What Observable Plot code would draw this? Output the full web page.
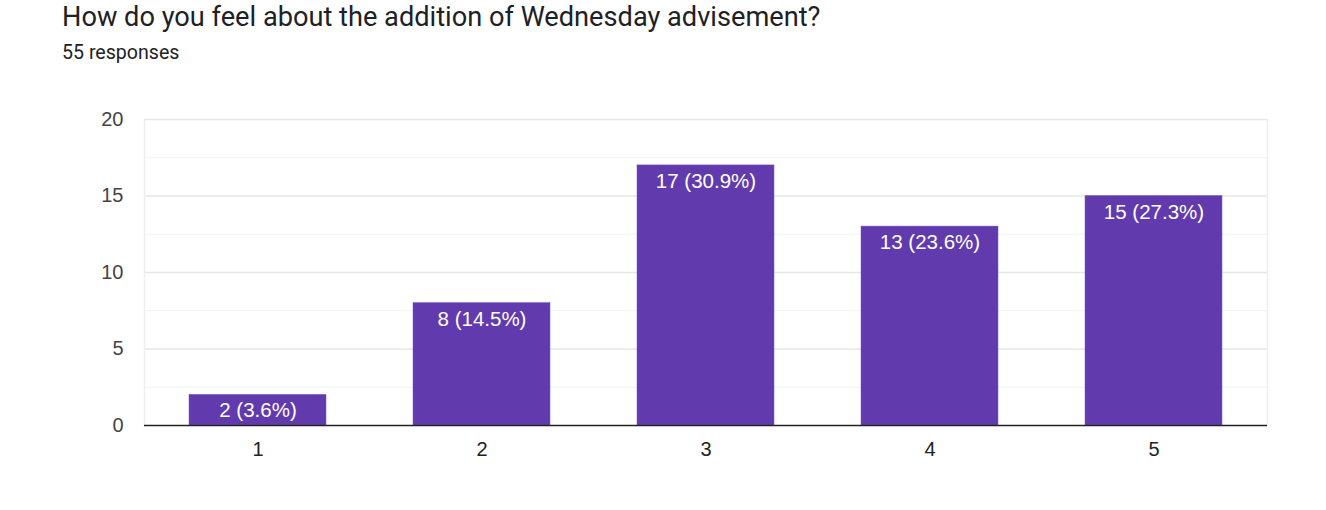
<!DOCTYPE html>
<html><head><meta charset="utf-8">
<script src="https://cdn.jsdelivr.net/npm/d3@7"></script>
<script src="https://cdn.jsdelivr.net/npm/@observablehq/plot@0.6"></script>
<style>
body{margin:0;background:#fff;width:1326px;height:510px;overflow:hidden;position:relative}
#title{position:absolute;left:62px;top:1px;font:27.2px Roboto,sans-serif;color:#202124;white-space:nowrap}
#sub{position:absolute;left:62px;top:41px;font:19.6px Roboto,sans-serif;color:#202124}
#chart{position:absolute;left:0;top:90px}
</style></head><body>
<div id="title">How do you feel about the addition of Wednesday advisement?</div>
<div id="sub">55 responses</div>
<div id="chart"></div>
<script>
const categories = ["1","2","3","4","5"];
const counts = [2, 8, 17, 13, 15];
const labels = ["2 (3.6%)","8 (14.5%)","17 (30.9%)","13 (23.6%)","15 (27.3%)"];
const yTicks = [0,5,10,15,20];
const yMinor = [2.5,7.5,12.5,17.5];

const data = categories.map((c,i)=>({cat:c, n:counts[i], label:labels[i]}));

const chart = Plot.plot({
  width:1326, height:400,
  marginLeft:144, marginRight:59, marginTop:29, marginBottom:65,
  style:{fontFamily:"'Liberation Sans', Arial, sans-serif", background:"transparent"},
  x:{domain:categories, paddingInner:0.39, paddingOuter:0.195, label:null},
  y:{domain:[0,20], label:null},
  marks:[
    Plot.ruleY(yMinor,{stroke:"#f2f2f2", strokeWidth:1}),
    Plot.ruleY(yTicks.filter(d=>d>0),{stroke:"#e6e6e6", strokeWidth:1.5}),
    Plot.frame({stroke:"#eeeeee", strokeWidth:1.5, anchor:"left"}),
    Plot.frame({stroke:"#eeeeee", strokeWidth:1.5, anchor:"right"}),
    Plot.barY(data,{x:"cat", y:"n", fill:"#613bad", stroke:"#7a55c4", strokeWidth:0.5}),
    Plot.text(data,{x:"cat", y:"n", text:"label", fill:"white", dy:16, fontSize:20.5}),
    Plot.ruleY([0],{stroke:"#222", strokeWidth:1.5}),
    Plot.axisY(yTicks,{tickSize:0, tickPadding:21, fontSize:20, fill:"#444", label:null}),
    Plot.axisX({tickSize:0, tickPadding:16, fontSize:20, fill:"#222", label:null})
  ]
});
document.getElementById("chart").appendChild(chart);
</script>
</body></html>
